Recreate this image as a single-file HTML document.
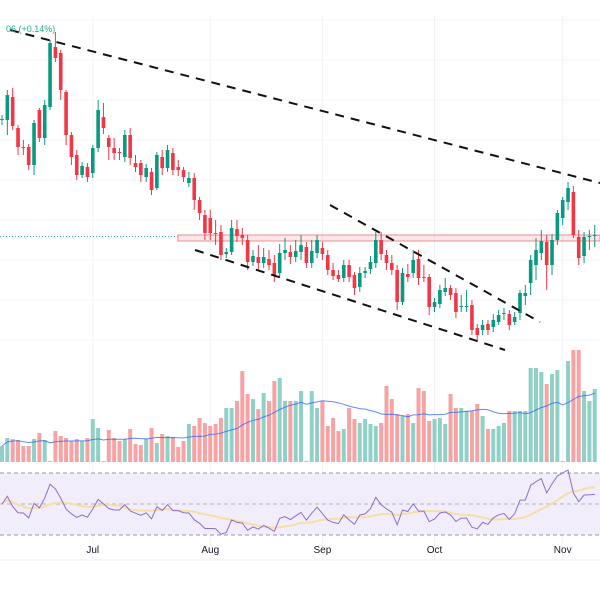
<!DOCTYPE html>
<html><head><meta charset="utf-8"><style>
html,body{margin:0;padding:0;background:#fff;width:600px;height:600px;overflow:hidden}
svg{display:block;font-family:"Liberation Sans",sans-serif}
</style></head><body>
<svg id="chart" width="600" height="600" viewBox="0 0 600 600" xmlns="http://www.w3.org/2000/svg">
<rect x="0" y="0" width="600" height="600" fill="#fff"/>
<g id="grid"></g>
<rect x="0" y="473" width="600" height="62" fill="#f1edfb"/>
<line x1="0" y1="473" x2="600" y2="473" stroke="#9598a1" stroke-dasharray="4,3" stroke-width="1"/>
<line x1="0" y1="504" x2="600" y2="504" stroke="#9598a1" stroke-dasharray="4,3" stroke-width="1" opacity="0.7"/>
<line x1="0" y1="535" x2="600" y2="535" stroke="#9598a1" stroke-dasharray="4,3" stroke-width="1"/>
<line x1="0" y1="560" x2="600" y2="560" stroke="#eceef2" stroke-width="1"/>
<line x1="0" y1="236.5" x2="180" y2="236.5" stroke="#22ab94" stroke-dasharray="1,2" stroke-width="1"/>
<rect x="178" y="235" width="422" height="6" fill="rgba(242,54,69,0.12)" stroke="#f08c8c" stroke-width="1"/>
<g id="vol"></g>
<path id="volma" fill="none" stroke="#2962ff" stroke-width="1" opacity="0.75"/>
<g id="candles"></g>
<line x1="10" y1="30" x2="600" y2="183" stroke="#111" stroke-width="2" stroke-dasharray="9,7"/>
<line x1="195" y1="250" x2="505" y2="350" stroke="#111" stroke-width="2" stroke-dasharray="9,7"/>
<line x1="330" y1="205" x2="540" y2="322" stroke="#111" stroke-width="2" stroke-dasharray="9,7"/>
<path id="rsima" fill="none" stroke="#f5dfa6" stroke-width="2"/>
<path id="rsi" fill="none" stroke="#7e57c2" stroke-width="1" opacity="0.85"/>
<text x="6" y="32" font-size="9" fill="#22ab94">06 (+0.14%)</text>
<g id="xaxis" font-size="10" fill="#131722" text-anchor="middle"></g>
</svg>
<script>
const opens=[380,380,403,372,353,353,335,390,362,393,453,447,408,365,345,325,333,327,352,383,362,352,348,343,365,337,337,323,328,312,343,332,347,333,330,317,322,300,285,282,267,268,246,248,271,265,260,238,243,237,241,237,227,247,248,243,248,253,237,247,252,245,230,225,222,235,225,213,227,231,237,260,245,237,230,198,226,227,241,223,223,193,196,208,212,207,193,193,195,172,170,176,173,178,186,186,178,187,204,217,235,247,258,235,260,282,298,308,263,244,263,264];
const closes=[381,405,374,353,352,335,377,362,395,457,442,410,365,343,325,334,323,352,390,372,353,347,347,365,342,333,325,332,310,345,332,350,330,330,323,322,300,287,267,267,266,245,248,272,264,262,238,244,237,243,235,225,247,250,243,249,255,237,249,260,246,230,224,221,235,223,212,227,229,238,260,246,237,230,198,227,223,240,222,222,193,198,210,212,205,188,194,194,170,165,175,170,180,185,187,175,183,207,207,240,250,259,235,260,287,300,312,265,242,263,264,265];
const highs=[385,410,412,375,360,356,380,392,400,460,468,450,410,368,350,338,337,355,400,397,365,362,352,370,372,345,340,336,332,348,350,355,352,340,333,328,327,303,290,290,280,275,252,280,280,272,265,250,255,252,250,245,256,262,255,260,265,258,260,265,258,250,237,230,240,240,228,233,233,244,268,268,250,245,235,232,236,250,250,235,226,202,215,222,215,212,205,210,200,176,180,180,186,190,192,190,188,210,215,245,262,270,265,266,290,303,318,314,270,268,270,275];
const lows=[375,365,370,345,345,330,325,358,355,390,438,400,355,335,320,322,318,322,348,366,340,340,340,338,335,328,318,318,305,310,325,328,325,324,318,313,290,280,260,260,255,240,242,245,258,255,230,234,230,232,230,218,222,240,236,238,240,232,232,242,240,225,220,218,218,218,205,208,222,226,232,240,230,225,190,195,218,222,215,218,185,188,192,204,200,182,188,188,165,160,165,165,168,175,180,170,175,180,195,205,220,240,210,225,255,275,290,262,235,237,250,253];
const volumes=[16,24,23,22,16,16,23,29,22,1,31,26,24,21,23,21,24,43,34,1,32,24,21,23,33,18,17,23,34,19,28,26,25,15,21,38,36,44,39,36,38,44,54,54,61,91,68,63,53,69,61,81,84,61,61,61,71,1,71,54,61,36,44,31,33,54,43,39,43,38,36,39,76,63,48,46,48,39,74,71,41,43,44,38,68,54,54,51,51,58,46,33,33,36,39,51,51,51,51,94,94,90,78,88,92,1,101,112,112,71,61,73];
const monthLabels=["Jul","Aug","Sep","Oct","Nov"];
const monthIndex=[17,39,60,81,105];

const NS="http://www.w3.org/2000/svg";
const step=5.34, x0=2;
function xS(i){return x0+i*step;}
function yP(p){return 500-p;}
const volBase=462;
function yV(v){return volBase-v;}
function yR(r){return 535-(r-30)*(62/40);}

const grid=document.getElementById('grid');
[20,60,100,140,180,220,260,300,340].forEach(function(y){
  const l=document.createElementNS(NS,'line');
  
  
  l.setAttribute('x1',0);l.setAttribute('x2',600);l.setAttribute('y1',y);l.setAttribute('y2',y);
  l.setAttribute('stroke','#f3f4f7');grid.appendChild(l);
});
const xa=document.getElementById('xaxis');
monthIndex.forEach(function(mi,k){
  const x=xS(mi);
  const l=document.createElementNS(NS,'line');
  
  
  l.setAttribute('x1',x);l.setAttribute('x2',x);l.setAttribute('y1',15);l.setAttribute('y2',560);
  l.setAttribute('stroke','#f0f2f6');grid.appendChild(l);
  const t=document.createElementNS(NS,'text');
  
  
  t.setAttribute('x',x);t.setAttribute('y',553);t.textContent=monthLabels[k];xa.appendChild(t);
});

const cg=document.getElementById('candles'), vg=document.getElementById('vol');
for(let i=0;i<opens.length;i++){
  const o=opens[i],c=closes[i],up=c>=o,x=xS(i);
  const col=up?'#089981':'#f23645';
  const w=document.createElementNS(NS,'line');
  
  
  w.setAttribute('x1',x);w.setAttribute('x2',x);w.setAttribute('y1',yP(highs[i]));w.setAttribute('y2',yP(lows[i]));
  w.setAttribute('stroke',col);w.setAttribute('stroke-width','1');cg.appendChild(w);
  const b=document.createElementNS(NS,'rect');
  
  
  const top=Math.min(yP(o),yP(c));
  b.setAttribute('x',x-1.8);b.setAttribute('y',top);b.setAttribute('width',3.6);
  b.setAttribute('height',Math.max(1,Math.abs(o-c)));b.setAttribute('fill',col);cg.appendChild(b);
  const v=document.createElementNS(NS,'rect');
  
  
  v.setAttribute('x',x-2);v.setAttribute('y',yV(volumes[i]));v.setAttribute('width',4);
  v.setAttribute('height',volumes[i]);v.setAttribute('fill',up?'#8fd1c6':'#f7a3a3');vg.appendChild(v);
}
let d='';
for(let i=0;i<volumes.length;i++){
  const s=volumes.slice(Math.max(0,i-19),i+1);
  const m=s.reduce((a,b)=>a+b,0)/s.length;
  d+=(i?'L':'M')+xS(i).toFixed(1)+','+yV(m).toFixed(1);
}
document.getElementById('volma').setAttribute('d',d);
// RSI 14 with warm seeded averages
const rsiVals=[];let ag=9,al=9;
for(let i=0;i<closes.length;i++){
  const ch=i?closes[i]-closes[i-1]:0;
  const g=Math.max(ch,0),lo=Math.max(-ch,0);
  ag=(ag*13+g)/14;al=(al*13+lo)/14;
  rsiVals.push(al===0?70:100-100/(1+ag/al));
}
let dr='',dm='';
for(let i=0;i<rsiVals.length;i++){
  dr+=(i?'L':'M')+xS(i).toFixed(1)+','+yR(rsiVals[i]).toFixed(1);
  const s=rsiVals.slice(Math.max(0,i-13),i+1);
  const m=s.reduce((a,b)=>a+b,0)/s.length;
  dm+=(i?'L':'M')+xS(i).toFixed(1)+','+yR(m).toFixed(1);
}
document.getElementById('rsi').setAttribute('d',dr);
document.getElementById('rsima').setAttribute('d',dm);
</script>
</body></html>
